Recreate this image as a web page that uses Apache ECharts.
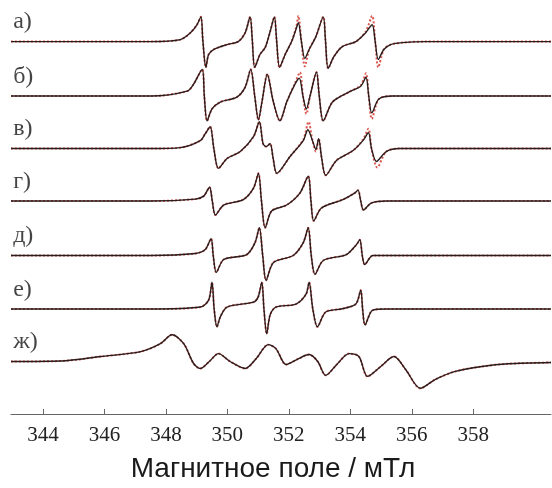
<!DOCTYPE html>
<html>
<head>
<meta charset="utf-8">
<script src="https://cdn.jsdelivr.net/npm/echarts@6/dist/echarts.min.js"></script>
<style>
  html, body { margin: 0; padding: 0; background: #fff; }
  #main { width: 552px; height: 488px; }
</style>
</head>
<body>
<div id="main"></div>
<script>
// magnetic field (mT) vs. signal above each trace's baseline
let labels = ['а)', 'б)', 'в)', 'г)', 'д)', 'е)', 'ж)'];
let offsets = [376, 321, 268, 215, 160, 106, 53];
let fieldTicks = [344, 346, 348, 350, 352, 354, 356, 358];

let expA = [[342.96,0],[347.50,0],[348.47,2],[348.80,9],[349.01,17],[349.14,25],[349.20,2],[349.30,-26],[349.39,-13],[349.55,-8],[349.99,-3],[350.35,0],[350.58,9],[350.74,25],[350.81,2],[350.89,-26],[351.06,-13],[351.23,-6],[351.39,10],[351.53,25],[351.60,2],[351.70,-26],[351.88,-13],[352.09,0],[352.25,14],[352.31,19],[352.41,0],[352.52,-17],[352.66,-8],[352.88,5],[353.12,25],[353.19,2],[353.28,-27],[353.47,-15],[353.74,-5],[354.18,0],[354.50,9],[354.71,17],[354.81,0],[354.91,-18],[355.09,-8],[355.31,-3],[355.69,-1],[356.44,0],[360.53,0]];
let simA = [[342.96,0],[347.50,0],[348.47,2],[348.80,9],[349.01,17],[349.14,25],[349.20,2],[349.30,-26],[349.39,-13],[349.55,-8],[349.99,-3],[350.35,0],[350.58,9],[350.74,25],[350.81,2],[350.89,-26],[351.06,-13],[351.23,-6],[351.39,10],[351.53,25],[351.60,2],[351.70,-26],[351.88,-13],[352.09,0],[352.25,16],[352.31,26],[352.41,0],[352.52,-25],[352.66,-8],[352.88,5],[353.12,25],[353.19,2],[353.28,-27],[353.47,-15],[353.74,-5],[354.18,0],[354.50,10],[354.71,26],[354.81,0],[354.91,-26],[355.09,-8],[355.31,-3],[355.69,-1],[356.44,0],[360.53,0]];

let expB = [[342.96,0],[347.50,0],[348.69,5],[348.90,12],[349.18,27],[349.25,0],[349.34,-25],[349.50,-13],[349.77,-6],[350.31,-1],[350.58,9],[350.76,27],[350.89,0],[351.01,-24],[351.13,-5],[351.30,22],[351.49,-5],[351.71,-25],[351.93,-6],[352.20,12],[352.34,18],[352.46,0],[352.57,-13],[352.69,0],[352.90,24],[352.99,0],[353.12,-25],[353.42,-6],[353.95,4],[354.34,10],[354.51,19],[354.60,0],[354.70,-17],[354.93,-3],[355.37,0],[356.25,0],[360.53,0]];
let simB = [[342.96,0],[347.50,0],[348.69,5],[348.90,12],[349.18,27],[349.25,0],[349.34,-25],[349.50,-13],[349.77,-6],[350.31,-1],[350.58,9],[350.76,27],[350.89,0],[351.01,-24],[351.13,-5],[351.30,22],[351.49,-5],[351.71,-25],[351.93,-6],[352.20,13],[352.36,24],[352.46,0],[352.57,-18],[352.69,0],[352.90,24],[352.99,0],[353.12,-25],[353.42,-6],[353.95,4],[354.34,11],[354.51,23],[354.60,0],[354.70,-23],[354.93,-3],[355.37,0],[356.25,0],[360.53,0]];

let expC = [[342.96,0],[347.50,0],[348.47,1],[349.12,8],[349.28,15],[349.44,22],[349.56,0],[349.71,-20],[349.99,-10],[350.42,-3],[350.85,12],[351.04,27],[351.16,5],[351.26,2],[351.39,5],[351.49,-10],[351.61,-25],[352.04,-8],[352.47,8],[352.62,19],[352.77,8],[352.88,-1],[352.97,10],[353.07,-10],[353.20,-27],[353.55,-12],[354.09,-2],[354.41,8],[354.59,16],[354.69,0],[354.85,-13],[355.17,-3],[355.60,0],[356.25,0],[360.53,0]];
let simC = [[342.96,0],[347.50,0],[348.47,1],[349.12,8],[349.28,15],[349.44,22],[349.56,0],[349.71,-20],[349.99,-10],[350.42,-3],[350.85,12],[351.04,27],[351.16,5],[351.26,2],[351.39,5],[351.49,-10],[351.61,-25],[352.04,-8],[352.47,9],[352.64,27],[352.77,8],[352.88,-3],[352.97,10],[353.07,-10],[353.20,-27],[353.55,-12],[354.09,-2],[354.41,9],[354.59,20],[354.69,0],[354.88,-19],[355.17,-3],[355.60,0],[356.25,0],[360.53,0]];

let expD = [[342.96,0],[347.50,0],[348.96,2],[349.23,5],[349.42,14],[349.51,0],[349.61,-14],[349.88,-4],[350.52,1.5],[350.85,13],[351.01,28],[351.11,0],[351.23,-27],[351.44,-10],[351.93,-4],[352.36,8],[352.63,25],[352.72,0],[352.81,-20],[353.06,-7],[353.76,1.5],[354.14,8],[354.25,11],[354.34,0],[354.43,-9],[354.68,-2],[355.17,0],[360.53,0]];

let expE = [[342.96,0],[347.50,0],[348.96,2],[349.28,6],[349.47,17],[349.54,0],[349.64,-17],[349.88,-4],[350.63,1],[350.90,13],[351.04,28],[351.15,0],[351.26,-25],[351.50,-7],[352.14,0],[352.47,13],[352.63,28],[352.73,0],[352.85,-19],[353.12,-5],[353.87,1],[354.20,11],[354.31,16],[354.39,0],[354.47,-9],[354.74,0],[360.53,0]];

let expF = [[342.96,0],[347.50,0],[349.12,2],[349.39,9],[349.50,27],[349.57,0],[349.66,-18],[349.77,-8],[349.99,2],[350.85,7],[351.00,12],[351.12,27],[351.19,0],[351.28,-25],[351.39,-6],[351.58,2],[352.23,5],[352.56,15],[352.66,27],[352.78,0],[352.93,-18],[353.20,-3],[353.74,0.3],[354.18,5],[354.34,19],[354.40,0],[354.48,-16],[354.72,-1.3],[355.15,0],[360.53,0]];

let expG = [[342.96,0],[344.58,0.5],[345.88,5],[347.18,10],[347.82,18],[348.20,27],[348.58,18],[348.90,-2],[349.12,-7],[349.41,0],[349.71,8],[350.09,0],[350.58,-7],[350.94,3],[351.33,17],[351.58,13],[351.91,-3],[352.26,2],[352.66,7],[352.94,0],[353.20,-14],[353.56,-3],[353.96,8],[354.28,5],[354.56,-15],[354.99,-5],[355.42,5],[355.80,-8],[356.28,-27],[356.77,-18],[357.42,-10],[358.28,-5],[359.14,-2.3],[360.53,-1]];

let experiments = [expA, expB, expC, expD, expE, expF, expG];
let simulations = [simA, simB, simC, expD, expE, expF, expG];

let chart = null;

function shift(data, off) {
    return data.map(function (p) { return [p[0], p[1] + off]; });
}

function drawChart() {
    chart = echarts.init(document.getElementById('main'));

    let series = [];
    simulations.forEach(function (d, i) {
        series.push({
            type: 'line',
            data: shift(d, offsets[i]),
            smooth: 0.3,
            symbol: 'none',
            z: 2,
            lineStyle: { color: '#d9574f', width: 2, type: [2, 2] }
        });
    });
    experiments.forEach(function (d, i) {
        series.push({
            type: 'line',
            data: shift(d, offsets[i]),
            smooth: 0.3,
            symbol: 'none',
            z: 3,
            lineStyle: { color: '#2a1d1d', width: 1.4 }
        });
    });
    // panel letters
    series.push({
        type: 'scatter',
        symbolSize: 0,
        z: 4,
        data: labels.map(function (t, i) { return { value: [343.03, offsets[i] + 20], name: t }; }),
        label: {
            show: true,
            position: 'right',
            distance: 0,
            formatter: '{b}',
            fontFamily: '"Liberation Serif", "Times New Roman", serif',
            fontSize: 24,
            color: '#151515'
        }
    });

    let option = {
        animation: false,
        grid: { left: 11, right: 1, top: 0, bottom: 70 },
        xAxis: {
            type: 'value',
            min: 342.96,
            max: 360.53,
            name: 'Магнитное поле / мТл',
            nameLocation: 'middle',
            nameGap: 41,
            nameTextStyle: {
                fontFamily: '"Liberation Sans", Arial, sans-serif',
                fontSize: 28,
                color: '#1a1a1a',
                padding: [0, 16, 0, 0]
            },
            axisLine: { lineStyle: { color: '#666', width: 1.2 } },
            axisTick: { inside: true, length: 5, customValues: fieldTicks, lineStyle: { color: '#666' } },
            axisLabel: {
                customValues: fieldTicks,
                margin: 11,
                fontFamily: '"Liberation Serif", "Times New Roman", serif',
                fontSize: 21,
                color: '#222'
            },
            splitLine: { show: false }
        },
        yAxis: {
            type: 'value',
            min: 0,
            max: 418,
            show: false
        },
        series: series
    };

    chart.setOption(option, true);
}

window.addEventListener('load', drawChart, false);
</script>
</body>
</html>
